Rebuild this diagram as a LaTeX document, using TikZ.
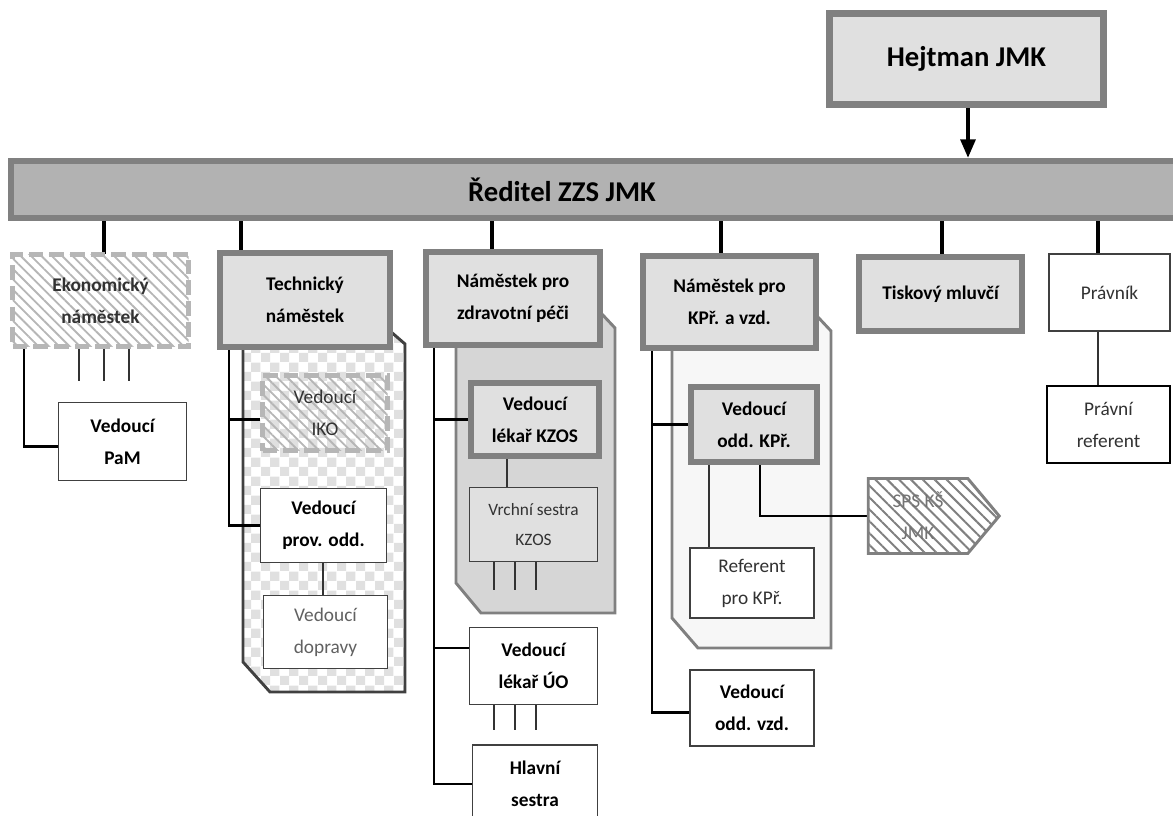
\documentclass[tikz,border=0pt]{standalone}
\usepackage{fontspec}
\setmainfont{Carlito}
\usetikzlibrary{arrows.meta,positioning,calc,patterns,patterns.meta,shapes.symbols}

\definecolor{boxfill}{RGB}{224,224,224}
\definecolor{barfill}{RGB}{178,178,178}
\definecolor{edgegray}{RGB}{128,128,128}
\definecolor{dashgray}{RGB}{182,182,182}
\definecolor{groupfill}{RGB}{214,214,214}
\definecolor{textgray}{RGB}{50,50,50}

\pgfdeclarepatternformonly{chequer}{\pgfpointorigin}{\pgfqpoint{14pt}{14pt}}{\pgfqpoint{14pt}{14pt}}{%
  \pgfpathrectangle{\pgfpointorigin}{\pgfqpoint{7pt}{7pt}}%
  \pgfpathrectangle{\pgfqpoint{7pt}{7pt}}{\pgfqpoint{7pt}{7pt}}%
  \pgfusepath{fill}}

\pgfdeclarelayer{groups}
\pgfdeclarelayer{links}
\pgfsetlayers{groups,links,main}

\tikzset{
  boxsize/.style 2 args={minimum width=#1*0.75pt, minimum height=#2*0.75pt},
  boxfont/.style={font=\fontsize{14.5}{24}\selectfont},
  boldfont/.style={font=\fontsize{14.5}{24}\selectfont\bfseries},
  bigfont/.style={font=\fontsize{21.5}{25}\selectfont\bfseries},
  mainbox/.style={draw=edgegray, line width=4.5pt, fill=boxfill, align=center, inner sep=2pt, boldfont},
  plainbox/.style={draw=black!75, line width=1.1pt, fill=white, align=center, inner sep=2pt, boxfont, text=textgray},
  boldbox/.style={plainbox, boldfont, text=black},
  vacantbox/.style={draw=dashgray, line width=3.8pt, dash pattern=on 11pt off 4.5pt,
    pattern={Lines[angle=-45,distance=5.5pt,line width=1.4pt]}, pattern color=dashgray,
    align=center, inner sep=2pt, text=textgray},
  conn/.style={line width=2.2pt, black},
  stub/.style={line width=3.5pt, black},
  link/.style={line width=0.9pt, black!80},
  group/.style={line width=2.2pt, line join=miter}
}

\begin{document}
\begin{tikzpicture}[x=0.75pt, y=-0.75pt]
  \useasboundingbox (0,0) rectangle (1173,816);

  % Top of the chart
  \node[mainbox, boxsize={274}{91}, bigfont, line width=5.2pt] (hejtman) at (966.5,59) {Hejtman JMK};
  \node[mainbox, boxsize={1179}{57}, fill=barfill] (reditel) at (600.5,189.5) {};
  \node[bigfont] (reditelText) at (562,189.5) {Ředitel ZZS JMK};

  % Deputies and staff
  \node[vacantbox, boxsize={176}{92}, boldfont] (ekon) at (100.5,300.5) {Ekonomický\\náměstek};
  \node[mainbox, boxsize={170}{94}] (tech) at (305,300) {Technický\\náměstek};
  \node[mainbox, boxsize={174}{93}] (zp) at (513,298.5) {Náměstek pro\\zdravotní péči};
  \node[mainbox, boxsize={173}{92}] (kpr) at (729.5,302) {Náměstek pro\\KPř. a vzd.};
  \node[mainbox, boxsize={163}{74}] (tisk) at (940.5,294) {Tiskový mluvčí};
  \node[plainbox, boxsize={121}{77}] (pravnik) at (1109.5,292.5) {Právník};

  % Second level
  \node[boldbox, boxsize={128}{78}] (pam) at (122.5,441.5) {Vedoucí\\PaM};
  \node[vacantbox, boxsize={125}{75}, boxfont] (iko) at (325,413) {Vedoucí\\IKO};
  \node[boldbox, boxsize={126}{74}] (provodd) at (323.5,525.5) {Vedoucí\\prov. odd.};
  \node[plainbox, boxsize={124}{73}, text=black!62] (doprava) at (325.5,632) {Vedoucí\\dopravy};
  \node[mainbox, boxsize={128}{73}] (kzos) at (535,419.5) {Vedoucí\\lékař KZOS};
  \node[plainbox, boxsize={128}{74}, fill=boxfill, font=\fontsize{13}{23}\selectfont] (vrchni) at (533.5,524.5) {Vrchní sestra\\KZOS};
  \node[boldbox, boxsize={128}{77}] (uo) at (533.5,666) {Vedoucí\\lékař ÚO};
  \node[boldbox, boxsize={125}{78}] (hlavni) at (535,784) {Hlavní\\sestra};
  \node[mainbox, boxsize={126}{75}] (oddkpr) at (754,424.5) {Vedoucí\\odd. KPř.};
  \node[plainbox, boxsize={124}{70}] (referent) at (752,583) {Referent\\pro KPř.};
  \node[boldbox, boxsize={124}{76}] (oddvzd) at (752,708) {Vedoucí\\odd. vzd.};
  \node[signal, signal to=east, signal pointer angle=100, draw=edgegray, line width=2.2pt,
    pattern={Lines[angle=-45,distance=6.3pt,line width=1.5pt]}, pattern color=edgegray,
    boxsize={131}{75}, align=center, boxfont, text=black!55] (sps) at (918,516) {SPS KŠ\\JMK};
  \node[plainbox, boxsize={123}{77}, line width=1.8pt, draw=black] (pravref) at (1108.5,424.5) {Právní\\referent};

  % Sections behind the deputies
  \begin{pgfonlayer}{groups}
    \draw[group, draw=black!75, pattern=chequer, pattern color=black!12] (243,340) -- (243,662) -- (270,692) -- (405,692) -- (405,344) -- (390,331) -- cycle;
    \draw[group, draw=edgegray, fill=groupfill] (456,340) -- (456,583) -- (481,613) -- (615,613) -- (615,328) -- (600,312) -- cycle;
    \draw[group, draw=edgegray, fill=black!3] (672,340) -- (672,618) -- (698,648) -- (831,648) -- (831,331) -- (816,315) -- cycle;
  \end{pgfonlayer}

  \begin{pgfonlayer}{links}
    \draw[line width=3pt, -{Triangle[length=14pt,width=11pt]}] (hejtman.south -| 968,0) -- (reditel.north -| 968,0);
    \foreach \n/\x in {ekon/104, tech/241, zp/492, kpr/721, tisk/942, pravnik/1098}
      \draw[stub] (reditel.south -| \x,0) -- (\n.north -| \x,0);

    % Ekonomický
    \coordinate (ekontrunk) at (ekon.south -| 24,0);
    \draw[conn] ([yshift=-4pt]pam.west) -| (ekontrunk);
    \foreach \x in {79,104,129}
      \draw[link] (ekon.south -| \x,0) -- ++(0,34);

    % Technický
    \coordinate (techtrunk) at (tech.south -| 229,0);
    \draw[conn] ([yshift=-5pt]iko.west) -| (techtrunk);
    \draw[conn] (provodd.west) -| (techtrunk);
    \draw[link] (provodd.south -| 323,0) -- (doprava.north -| 323,0);

    % Zdravotní péče
    \coordinate (zptrunk) at (zp.south -| 434,0);
    \draw[conn] (kzos.west) -| (zptrunk);
    \draw[conn] ([yshift=13.5pt]uo.west) -| (zptrunk);
    \draw[conn] (hlavni.west) -| (zptrunk);
    \draw[link] (kzos.south -| 507,0) -- (vrchni.north -| 507,0);
    \foreach \x in {494,515,536} {
      \draw[link] (vrchni.south -| \x,0) -- ++(0,28);
      \draw[link] (uo.south -| \x,0) -- ++(0,25);
    }

    % KPř. a vzdělávání
    \coordinate (kprtrunk) at (kpr.south -| 652,0);
    \draw[conn] (oddkpr.west) -| (kprtrunk);
    \draw[conn] ([yshift=-3.5pt]oddvzd.west) -| (kprtrunk);
    \draw[link] (oddkpr.south -| 709,0) -- (referent.north -| 709,0);
    \draw[conn] (oddkpr.south -| 760,0) |- (sps.west);

    % Právník
    \draw[link] (pravnik.south -| 1098,0) -- (pravref.north -| 1098,0);
  \end{pgfonlayer}
\end{tikzpicture}
\end{document}
